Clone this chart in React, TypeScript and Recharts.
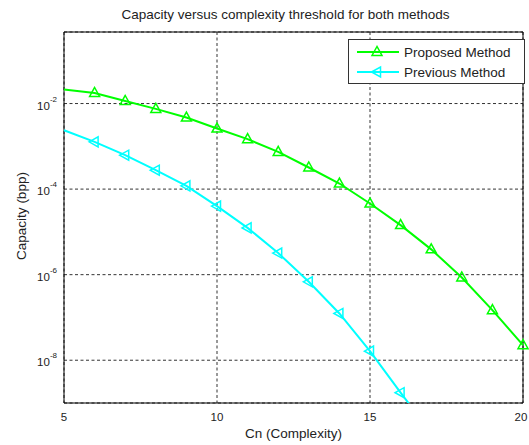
import { LineChart, Line, XAxis, YAxis, CartesianGrid, ReferenceArea } from 'recharts';

// complexity threshold Cn
const cn = [5, 6, 7, 8, 9, 10, 11, 12, 13, 14, 15, 16, 17, 18, 19, 20];
// capacity (bpp)
const proposed = [0.0213, 0.0177, 0.0115, 0.0075, 0.0047, 0.0026, 0.00147, 7.4e-4, 3.2e-4, 1.35e-4, 4.6e-5, 1.44e-5, 3.9e-6, 8.6e-7, 1.48e-7, 2.25e-8];
const previous = [2.38e-3, 1.27e-3, 6.2e-4, 2.77e-4, 1.19e-4, 4.0e-5, 1.24e-5, 3.2e-6, 6.8e-7, 1.24e-7, 1.63e-8, 1.74e-9, 2.0e-10, null, null, null];

const xTicks = [5, 10, 15, 20];
const yTicks = [1e-8, 1e-6, 1e-4, 1e-2];
const yDomain = [1e-9, 0.47];

const data = cn.map((c, i) => ({ cn: c, proposed: proposed[i], previous: previous[i] }));

const FONT = '"Liberation Sans", Arial, Helvetica, sans-serif';
const GREEN = '#00ff00';
const CYAN = '#00ffff';
const TEXT = 13.5;

const upTriangle = (props: any) => {
  const { cx, cy, index, payload } = props;
  if (cy == null || payload.cn === 5) return <g key={`pu-${index}`} />;
  return (
    <polygon
      key={`pu-${index}`}
      points={`${cx},${cy - 5.5} ${cx - 5},${cy + 3.5} ${cx + 5},${cy + 3.5}`}
      fill="none"
      stroke={GREEN}
      strokeWidth={1.5}
    />
  );
};

const leftTriangle = (props: any) => {
  const { cx, cy, index, payload } = props;
  if (cy == null || payload.cn === 5) return <g key={`pl-${index}`} />;
  return (
    <polygon
      key={`pl-${index}`}
      points={`${cx - 5.5},${cy} ${cx + 3.5},${cy - 5} ${cx + 3.5},${cy + 5}`}
      fill="none"
      stroke={CYAN}
      strokeWidth={1.5}
    />
  );
};

const LogTick = (props: any) => {
  const { x, y, payload } = props;
  const exp = Math.round(Math.log10(payload.value));
  return (
    <text x={x} y={y + 6} textAnchor="end" fontFamily={FONT} fill="#222">
      <tspan fontSize={11.5}>10</tspan>
      <tspan fontSize={8} dy={-8}>{exp}</tspan>
    </text>
  );
};

const XTick = (props: any) => {
  const { x, y, payload } = props;
  return (
    <text x={x} y={y} textAnchor="middle" fontFamily={FONT} fontSize={11.5} fill="#222">
      {payload.value}
    </text>
  );
};

const LegendRow = ({ color, label, marker }: { color: string; label: string; marker: 'up' | 'left' }) => (
  <div style={{ display: 'flex', alignItems: 'center', height: 20 }}>
    <svg width={46} height={14} style={{ marginRight: 3 }}>
      <line x1={2} y1={7} x2={44} y2={7} stroke={color} strokeWidth={2} />
      {marker === 'up' ? (
        <polygon points="22,1.5 17,10.5 27,10.5" fill="none" stroke={color} strokeWidth={1.5} />
      ) : (
        <polygon points="16.5,7 25.5,2 25.5,12" fill="none" stroke={color} strokeWidth={1.5} />
      )}
    </svg>
    <span>{label}</span>
  </div>
);

export default function App() {
  return (
    <div style={{ position: 'absolute', left: 0, top: 0, width: 529, height: 445, background: '#fff', fontFamily: FONT }}>
      <LineChart width={529} height={445} data={data} margin={{ top: 32, right: 6, left: 4, bottom: 12 }}>
        <CartesianGrid yAxisId="main" stroke="#333" strokeDasharray="3 2.5" />
        <XAxis
          dataKey="cn"
          type="number"
          domain={[5, 20]}
          ticks={xTicks}
          height={30}
          axisLine={false}
          tickLine={false}
          tickSize={0}
          tickMargin={18}
          tick={XTick}
        />
        <YAxis
          yAxisId="main"
          scale="log"
          type="number"
          domain={yDomain}
          ticks={yTicks}
          width={60}
          axisLine={false}
          tickLine={false}
          tickSize={0}
          tickMargin={7}
          tick={LogTick}
        />
        <YAxis yAxisId="prev" scale="log" type="number" domain={yDomain} allowDataOverflow hide />
        <ReferenceArea yAxisId="main" x1={5} x2={20} y1={1e-9} y2={0.47} fill="none" stroke="#000" strokeWidth={1} />
        <Line
          yAxisId="prev"
          type="linear"
          dataKey="previous"
          stroke={CYAN}
          strokeWidth={2}
          dot={leftTriangle}
          activeDot={false}
          isAnimationActive={false}
        />
        <Line
          yAxisId="main"
          type="linear"
          dataKey="proposed"
          stroke={GREEN}
          strokeWidth={2}
          dot={upTriangle}
          activeDot={false}
          isAnimationActive={false}
        />
      </LineChart>
      <div style={{ position: 'absolute', left: 56, width: 459, top: 7, textAlign: 'center', fontSize: TEXT, color: '#222' }}>
        Capacity versus complexity threshold for both methods
      </div>
      <div style={{ position: 'absolute', left: 64, width: 459, top: 426, textAlign: 'center', fontSize: TEXT, color: '#222' }}>
        Cn (Complexity)
      </div>
      <div
        style={{
          position: 'absolute',
          left: 21,
          top: 216,
          transform: 'translate(-50%, -50%) rotate(-90deg)',
          whiteSpace: 'nowrap',
          fontSize: TEXT,
          color: '#222',
        }}
      >
        Capacity (bpp)
      </div>
      <div
        style={{
          position: 'absolute',
          left: 348,
          top: 39,
          width: 177,
          height: 45,
          border: '1px solid #333',
          background: '#fff',
          fontSize: TEXT,
          color: '#222',
          padding: '2px 0 0 6px',
          boxSizing: 'border-box',
        }}
      >
        <LegendRow color={GREEN} label="Proposed Method" marker="up" />
        <LegendRow color={CYAN} label="Previous Method" marker="left" />
      </div>
    </div>
  );
}
